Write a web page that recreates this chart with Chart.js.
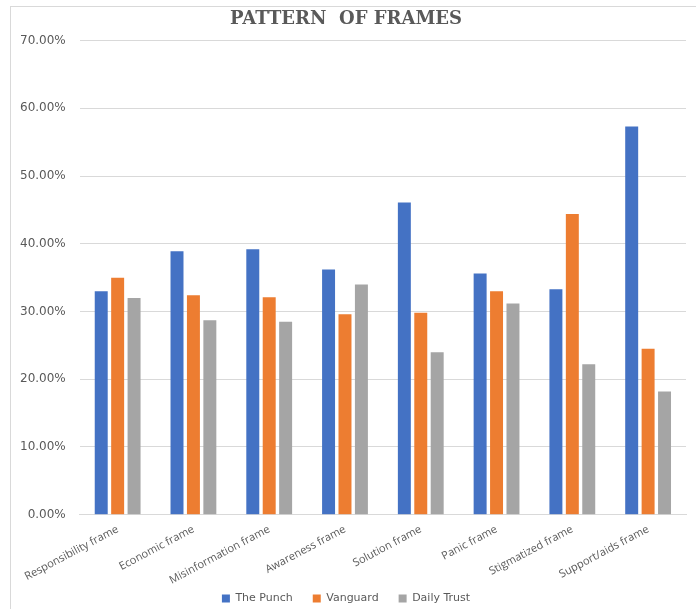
<!DOCTYPE html>
<html>
<head>
<meta charset="utf-8">
<script src="https://cdn.jsdelivr.net/npm/chart.js@4.4.1/dist/chart.umd.min.js"></script>
<style>
  html, body { margin: 0; padding: 0; background: #fff; }
  #wrap { position: relative; width: 696px; height: 609px; overflow: hidden; }
  #frame { position: absolute; left: 10px; top: 6px; width: 700px; height: 620px;
           border-top: 1px solid #d9d9d9; border-left: 1px solid #d9d9d9; }
  canvas { position: absolute; left: 0; top: 0; }
</style>
</head>
<body>
<div id="wrap">
  <div id="frame"></div>
  <canvas id="framesChart" width="696" height="609"></canvas>
</div>
<script>
// Chart data
var categories = ["Responsibility frame", "Economic frame", "Misinformation frame", "Awareness frame",
                  "Solution frame", "Panic frame", "Stigmatized frame", "Support/aids frame"];
var punch    = [33.0, 38.9, 39.2, 36.2, 46.1, 35.6, 33.3, 57.3];
var vanguard = [35.0, 32.4, 32.1, 29.6, 29.8, 33.0, 44.4, 24.5];
var daily    = [32.0, 28.7, 28.5, 34.0, 24.0, 31.2, 22.2, 18.2];
var seriesNames = ["The Punch", "Vanguard", "Daily Trust"];
var yTicks = [0, 10, 20, 30, 40, 50, 60, 70];

var textGrey = '#595959';

var chartData = {
    labels: categories,
    datasets: [
        { label: seriesNames[0], data: punch,    backgroundColor: '#4472C4' },
        { label: seriesNames[1], data: vanguard, backgroundColor: '#ED7D31' },
        { label: seriesNames[2], data: daily,    backgroundColor: '#A5A5A5' }
    ]
};

var chartOptions = {
    responsive: false,
    animation: false,
    layout: { padding: { left: 6, right: 10, top: 4, bottom: -5 } },
    datasets: { bar: { categoryPercentage: 0.65, barPercentage: 0.79 } },
    plugins: {
        title: {
            display: true,
            text: 'PATTERN  OF FRAMES',
            color: textGrey,
            font: { family: '"DejaVu Serif", serif', size: 18, weight: 'bold' },
            padding: { top: 5, bottom: 10 }
        },
        legend: {
            position: 'bottom',
            labels: {
                color: textGrey,
                boxWidth: 8,
                boxHeight: 8,
                padding: 6,
                font: { family: '"DejaVu Sans", sans-serif', size: 11 },
                generateLabels: function(chart) {
                    // a bit of extra room between entries, like the original legend
                    var items = Chart.defaults.plugins.legend.labels.generateLabels(chart);
                    items.forEach(function(item, i) {
                        if (i < items.length - 1) item.text = item.text + '    ';
                    });
                    return items;
                }
            }
        },
        tooltip: { enabled: false }
    },
    scales: {
        x: {
            grid: { display: false },
            border: { color: '#d9d9d9' },
            afterFit: function(scale) {
                // let the first slanted label hang out past the plot edge
                scale.paddingLeft = 0;
                scale.paddingRight = 0;
            },
            ticks: {
                color: textGrey,
                minRotation: 28,
                maxRotation: 28,
                autoSkip: false,
                padding: 0,
                font: { family: '"Open Sans", sans-serif', size: 11 }
            }
        },
        y: {
            min: 0,
            max: 70,
            afterBuildTicks: function(axis) {
                axis.ticks = yTicks.map(function(v) { return { value: v }; });
            },
            grid: { color: '#d9d9d9', drawTicks: false },
            border: { display: false },
            ticks: {
                color: textGrey,
                padding: 14,
                font: { family: '"DejaVu Sans", sans-serif', size: 12 },
                callback: function(v) { return v.toFixed(2) + '%'; }
            }
        }
    }
};

var ctx = document.getElementById('framesChart');
var framesChart = new Chart(ctx, { type: 'bar', data: chartData, options: chartOptions });
</script>
</body>
</html>
